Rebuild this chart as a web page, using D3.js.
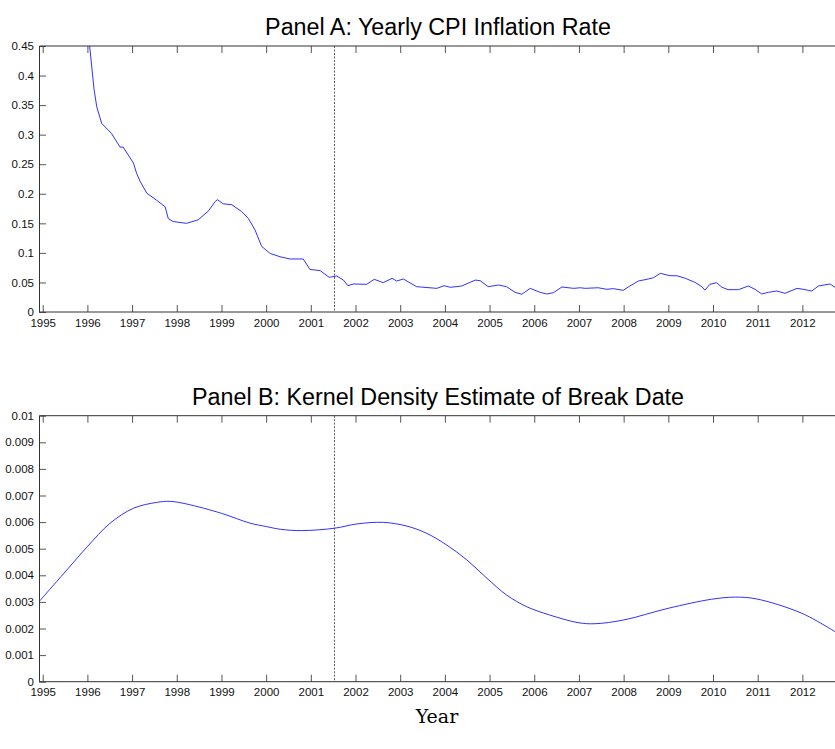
<!DOCTYPE html>
<html>
<head>
<meta charset="utf-8">
<script src="https://cdn.jsdelivr.net/npm/d3@7"></script>
<style>
  body { margin: 0; background: #fff; }
  svg { display: block; font-family: "Liberation Sans", Arial, sans-serif; }
  .tick text { font-size: 11.5px; fill: #111; }
  .tick line { stroke: #555; }
</style>
</head>
<body>
<div id="chart"></div>
<script>
// yearly CPI inflation (fraction)
const cpiYears = [1994.917, 1995.5, 1995.9, 1996.05, 1996.15, 1996.21, 1996.32, 1996.54, 1996.73, 1996.80,
  1997.03, 1997.10, 1997.18, 1997.33, 1997.55, 1997.74, 1997.81, 1997.92, 1998.22, 1998.48,
  1998.71, 1998.86, 1998.91, 1999.04, 1999.23, 1999.45, 1999.60, 1999.75, 1999.90, 2000.09,
  2000.31, 2000.53, 2000.83, 2000.98, 2001.21, 2001.41, 2001.58, 2001.73, 2001.83, 2001.95,
  2002.25, 2002.42, 2002.62, 2002.82, 2002.92, 2003.07, 2003.37, 2003.82, 2003.98, 2004.12,
  2004.38, 2004.68, 2004.79, 2004.97, 2005.20, 2005.38, 2005.57, 2005.72, 2005.91, 2006.13,
  2006.28, 2006.43, 2006.62, 2006.88, 2007.03, 2007.14, 2007.43, 2007.62, 2007.77, 2007.99,
  2008.14, 2008.33, 2008.55, 2008.67, 2008.82, 2009.04, 2009.19, 2009.38, 2009.60, 2009.75,
  2009.82, 2009.93, 2010.08, 2010.20, 2010.34, 2010.57, 2010.79, 2010.94, 2011.09, 2011.24,
  2011.43, 2011.61, 2011.88, 2012.02, 2012.21, 2012.36, 2012.62, 2012.73];
const cpiValues = [0.95, 0.70, 0.52, 0.45, 0.376, 0.347, 0.319, 0.302, 0.279, 0.279,
  0.252, 0.235, 0.221, 0.201, 0.189, 0.178, 0.158, 0.153, 0.150, 0.156,
  0.171, 0.187, 0.190, 0.183, 0.1815, 0.170, 0.1585, 0.139, 0.111, 0.099,
  0.0935, 0.0897, 0.0897, 0.072, 0.070, 0.0587, 0.061, 0.054, 0.0445, 0.0474,
  0.0468, 0.0553, 0.0496, 0.057, 0.0524, 0.0558, 0.0428, 0.040, 0.0445, 0.0418,
  0.044, 0.054, 0.053, 0.0428, 0.0457, 0.0428, 0.0333, 0.030, 0.040, 0.0333,
  0.0305, 0.0327, 0.0423, 0.040, 0.041, 0.040, 0.041, 0.0384, 0.0395, 0.0367,
  0.044, 0.0524, 0.0558, 0.058, 0.0654, 0.0614, 0.0614, 0.057, 0.050, 0.0428,
  0.037, 0.0468, 0.0496, 0.0418, 0.0378, 0.0378, 0.044, 0.0384, 0.0305, 0.0333,
  0.0355, 0.0316, 0.040, 0.0384, 0.0355, 0.044, 0.0474, 0.0418];

// kernel density of the break date
const kdeYears = [1994.917, 1995.54, 1996.0, 1996.51, 1997.03, 1997.55, 1997.85, 1998.22, 1999.0, 1999.64,
  2000.01, 2000.32, 2000.80, 2001.53, 2002.03, 2002.62, 2003.15, 2003.59, 2004.04, 2004.49,
  2004.94, 2005.38, 2005.83, 2006.34, 2006.98, 2007.36, 2008.0, 2009.0, 2009.97,
  2010.5, 2010.98, 2011.99, 2012.73];
const kdeValues = [0.00301, 0.00420, 0.00508, 0.00596, 0.00652, 0.00674, 0.00678, 0.00668, 0.00633, 0.00596,
  0.00583, 0.00573, 0.00568, 0.00577, 0.00593, 0.00599, 0.00585, 0.00558, 0.00514, 0.00458,
  0.00389, 0.00326, 0.00282, 0.00251, 0.00222, 0.00218, 0.00232, 0.00276, 0.0031,
  0.00318, 0.00311, 0.00257, 0.00188];

const yearTicks = d3.range(1995, 2013);
const cpiTicks = [0, 0.05, 0.1, 0.15, 0.2, 0.25, 0.3, 0.35, 0.4, 0.45];
const kdeTicks = [0, 0.001, 0.002, 0.003, 0.004, 0.005, 0.006, 0.007, 0.008, 0.009, 0.01];
const breakYear = 2001.53;

const W = 835, H = 749;
const svg = d3.select("#chart").append("svg")
  .attr("width", W).attr("height", H);

const x = d3.scaleLinear().domain([1994.917, 2012.73]).range([39, 835]);

function panel(id, top, bottom, yMax, yTicks, years, values, title, titleY, curve) {
  const y = d3.scaleLinear().domain([0, yMax]).range([bottom, top]);
  const g = svg.append("g");

  svg.append("clipPath").attr("id", id)
    .append("rect").attr("x", 39).attr("y", top).attr("width", 796).attr("height", bottom - top);

  // ticks (inward, MATLAB style)
  g.append("g").attr("transform", `translate(0,${bottom})`)
    .call(d3.axisBottom(x).tickValues(yearTicks).tickFormat(d3.format("d")).tickSizeInner(-7).tickSizeOuter(0))
    .call(a => a.select(".domain").remove())
    .call(a => a.selectAll("text").attr("dy", "0.75em").attr("y", 6));
  g.append("g").attr("transform", `translate(0,${top})`)
    .call(d3.axisTop(x).tickValues(yearTicks).tickFormat("").tickSizeInner(-7).tickSizeOuter(0))
    .call(a => a.select(".domain").remove());
  g.append("g").attr("transform", "translate(39,0)")
    .call(d3.axisLeft(y).tickValues(yTicks).tickFormat(d => d === 0 ? "0" : String(+d.toFixed(3))).tickSizeInner(-7).tickSizeOuter(0))
    .call(a => a.select(".domain").remove())
    .call(a => a.selectAll("text").attr("x", -5));

  // frame
  g.append("path")
    .attr("d", `M835,${top}H39.5V${bottom}H835`)
    .attr("fill", "none").attr("stroke", "#333").attr("stroke-width", 1);

  // break date
  g.append("line")
    .attr("x1", x(breakYear)).attr("x2", x(breakYear))
    .attr("y1", top).attr("y2", bottom)
    .attr("stroke", "#333").attr("stroke-width", 0.8).attr("stroke-dasharray", "2,1.5");

  const line = d3.line()
    .x((d, i) => x(years[i]))
    .y(d => y(d))
    .curve(curve);

  g.append("path")
    .datum(values)
    .attr("clip-path", `url(#${id})`)
    .attr("d", line)
    .attr("fill", "none").attr("stroke", "#1a1aff").attr("stroke-width", 0.9);

  svg.append("text")
    .attr("x", 438).attr("y", titleY)
    .attr("text-anchor", "middle")
    .attr("font-size", 23.3).attr("fill", "#000")
    .text(title);
}

panel("clipA", 46, 312, 0.45, cpiTicks, cpiYears, cpiValues,
  "Panel A: Yearly CPI Inflation Rate", 35, d3.curveLinear);
panel("clipB", 415.7, 681.7, 0.01, kdeTicks, kdeYears, kdeValues,
  "Panel B: Kernel Density Estimate of Break Date", 405, d3.curveCatmullRom.alpha(0.5));

svg.append("text")
  .attr("x", 437).attr("y", 723)
  .attr("text-anchor", "middle")
  .attr("font-family", "'DejaVu Serif', 'Liberation Serif', serif")
  .attr("font-size", 19)
  .text("Year");
</script>
</body>
</html>
